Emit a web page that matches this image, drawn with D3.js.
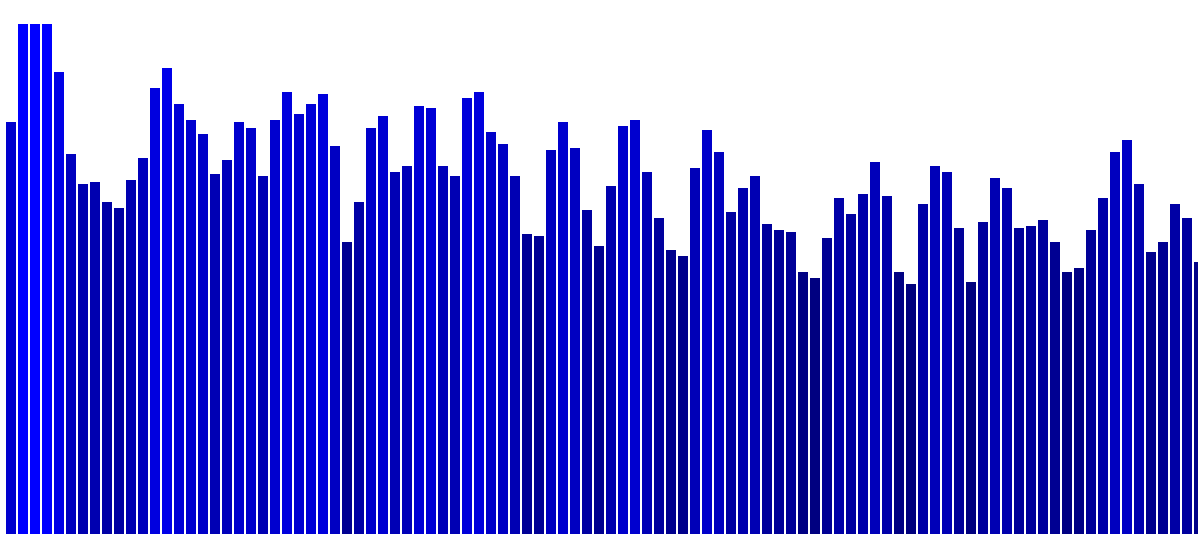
<!DOCTYPE html>
<html>
<head>
<meta charset="utf-8">
<script src="https://cdn.jsdelivr.net/npm/d3@7"></script>
<style>
  body { margin: 0; background: #fff; }
  svg { display: block; }
</style>
</head>
<body>
<div id="bar_chart"></div>
<script>
// Bar values (also used as the blue channel of each bar)
let values = [
  206, 255, 255, 255, 231, 190, 175, 176, 166, 163,
  177, 188, 223, 233, 215, 207, 200, 180, 187, 206,
  203, 179, 207, 221, 210, 215, 220, 194, 146, 166,
  203, 209, 181, 184, 214, 213, 184, 179, 218, 221,
  201, 195, 179, 150, 149, 192, 206, 193, 162, 144,
  174, 204, 207, 181, 158, 142, 139, 183, 202, 191,
  161, 173, 179, 155, 152, 151, 131, 128, 148, 168,
  160, 170, 186, 169, 131, 125, 165, 184, 181, 153,
  126, 156, 178, 173, 153, 154, 157, 146, 131, 133,
  152, 168, 191, 197, 175, 141, 146, 165, 158, 136
];

let width = 1198,
  height = 540;

let svg = d3
  .select("#bar_chart")
  .append("svg")
  .attr("width", width)
  .attr("height", height);

// 12px per bar, 10px wide, first bar at x = 6
let x = d3
  .scaleBand()
  .domain(d3.range(values.length))
  .range([6, 1204])
  .paddingInner(1 / 6)
  .paddingOuter(0);

let y = d3.scaleLinear().domain([0, 255]).range([534, 24]);

svg
  .append("g")
  .selectAll("rect")
  .data(values)
  .enter()
  .append("rect")
  .attr("x", (d, i) => x(i))
  .attr("y", (d) => y(d))
  .attr("width", x.bandwidth())
  .attr("height", (d) => y(0) - y(d))
  .attr("fill", (d) => "rgb(0, 0, " + Math.round(d) + ")");
</script>
</body>
</html>
